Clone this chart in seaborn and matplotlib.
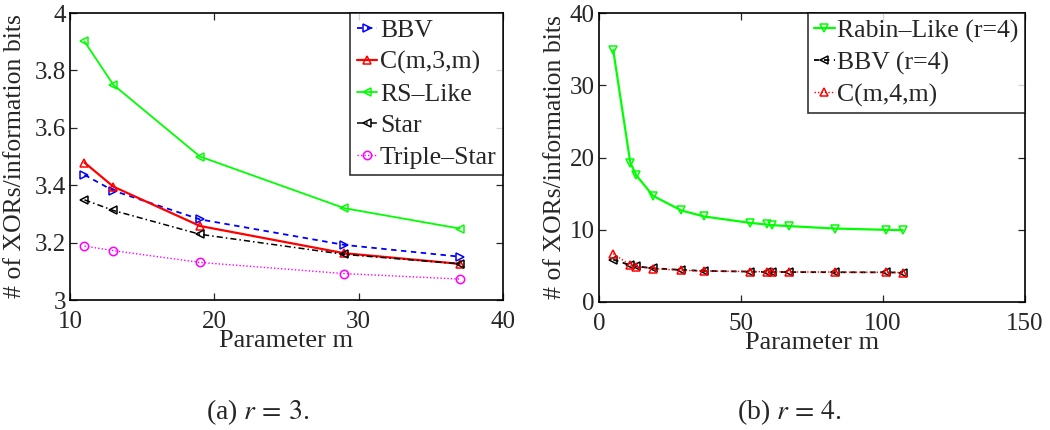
import matplotlib
matplotlib.use("Agg")
import matplotlib.pyplot as plt
import seaborn as sns
import pandas as pd

# ---- data (r = 3) ----
m3 = [11, 13, 19, 29, 37]
bbv3 = [3.436, 3.381, 3.281, 3.192, 3.151]
c3 = [3.479, 3.395, 3.258, 3.163, 3.126]
rs3 = [3.901, 3.750, 3.500, 3.320, 3.249]
star3 = [3.349, 3.312, 3.229, 3.159, 3.126]
triple3 = [3.188, 3.172, 3.131, 3.092, 3.073]

# ---- data (r = 4) ----
m4 = [5, 11, 13, 19, 29, 37, 53, 59, 61, 67, 83, 101, 107]
rabin4 = [34.9, 19.3, 17.6, 14.7, 12.67, 11.84, 10.96, 10.73, 10.64, 10.5, 10.17, 9.99, 9.94]
bbv4 = [5.87, 5.09, 4.95, 4.67, 4.44, 4.30, 4.21, 4.16, 4.16, 4.14, 4.12, 4.10, 4.07]
c4 = [6.7, 5.09, 4.9, 4.62, 4.39, 4.30, 4.21, 4.19, 4.18, 4.16, 4.14, 4.11, 4.07]

left_xticks = [10, 20, 30, 40]
left_yticks = [3, 3.2, 3.4, 3.6, 3.8, 4]
left_yticklabels = ["3", "3.2", "3.4", "3.6", "3.8", "4"]
right_xticks = [0, 50, 100, 150]
right_yticks = [0, 10, 20, 30, 40]

sns.set_style("ticks")
plt.rcParams["font.family"] = ["Liberation Serif", "DejaVu Serif"]
plt.rcParams["mathtext.fontset"] = "stix"
plt.rcParams["xtick.direction"] = "in"
plt.rcParams["ytick.direction"] = "in"

fig = plt.figure(figsize=(10.5, 4.3), dpi=100)
ax1 = fig.add_axes([0.0667, 0.3023, 0.4124, 0.6674])
ax2 = fig.add_axes([0.5705, 0.2977, 0.4057, 0.672])


def draw(ax, x, y, label, color, ls, marker, lw=1.3):
    df = pd.DataFrame({"x": x, "y": y})
    sns.lineplot(data=df, x="x", y="y", ax=ax, color=color, linestyle=ls,
                 marker=marker, markersize=6, markerfacecolor="none",
                 markeredgecolor=color, markeredgewidth=1.1, linewidth=lw,
                 label=label, sort=False, estimator=None)


green = (0, 1, 0)
draw(ax1, m3, bbv3, "BBV", "blue", (0, (3, 2.5)), ">")
draw(ax1, m3, c3, "C(m,3,m)", "red", "-", "^", lw=1.6)
draw(ax1, m3, rs3, "RS\u2013Like", green, "-", "<")
draw(ax1, m3, star3, "Star", "black", (0, (4, 2, 1, 2)), "<", lw=1.1)
draw(ax1, m3, triple3, "Triple\u2013Star", "magenta", (0, (1, 1.5)), "o", lw=1.0)

draw(ax2, m4, rabin4, "Rabin\u2013Like (r=4)", green, "-", "v", lw=1.6)
draw(ax2, m4, bbv4, "BBV (r=4)", "black", (0, (3, 2.5)), "<")
draw(ax2, m4, c4, "C(m,4,m)", "red", (0, (1, 1.5)), "^", lw=1.0)

for ax in (ax1, ax2):
    for sp in ax.spines.values():
        sp.set_visible(True)
        sp.set_linewidth(1.2)
        sp.set_color("black")
    ax.tick_params(which="both", direction="in", top=True, right=True,
                   length=5, width=0.9, labelsize=18)
    ax.tick_params(axis="x", pad=8)
    ax.tick_params(axis="y", pad=3)
    ax.set_xlabel("Parameter m", fontsize=19, labelpad=-2)

ax1.set_ylabel("# of XORs/information bits", fontsize=18.5, labelpad=6)
ax2.set_ylabel("# of XORs/information bits", fontsize=18.5, labelpad=3)

ax1.set_xlim(10, 40)
ax1.set_ylim(3, 4)
ax1.set_xticks(left_xticks)
ax1.set_yticks(left_yticks)
ax1.set_yticklabels(left_yticklabels)

ax2.set_xlim(0, 150)
ax2.set_ylim(0, 40)
ax2.set_xticks(right_xticks)
ax2.set_yticks(right_yticks)

for ax in (ax1, ax2):
    leg = ax.legend(loc="upper right", fontsize=18.5, frameon=True, fancybox=False,
                    borderaxespad=0, handlelength=0.8, handletextpad=0.1,
                    borderpad=0.25, labelspacing=0.33)
    leg.get_frame().set_edgecolor("black")
    leg.get_frame().set_linewidth(1.2)

fig.text(0.245, 0.042, "(a) $r\\,=\\,3$.", ha="center", va="center", fontsize=20)
fig.text(0.752, 0.042, "(b) $r\\,=\\,4$.", ha="center", va="center", fontsize=20)

fig.savefig("out.png", dpi=100, facecolor="white")
